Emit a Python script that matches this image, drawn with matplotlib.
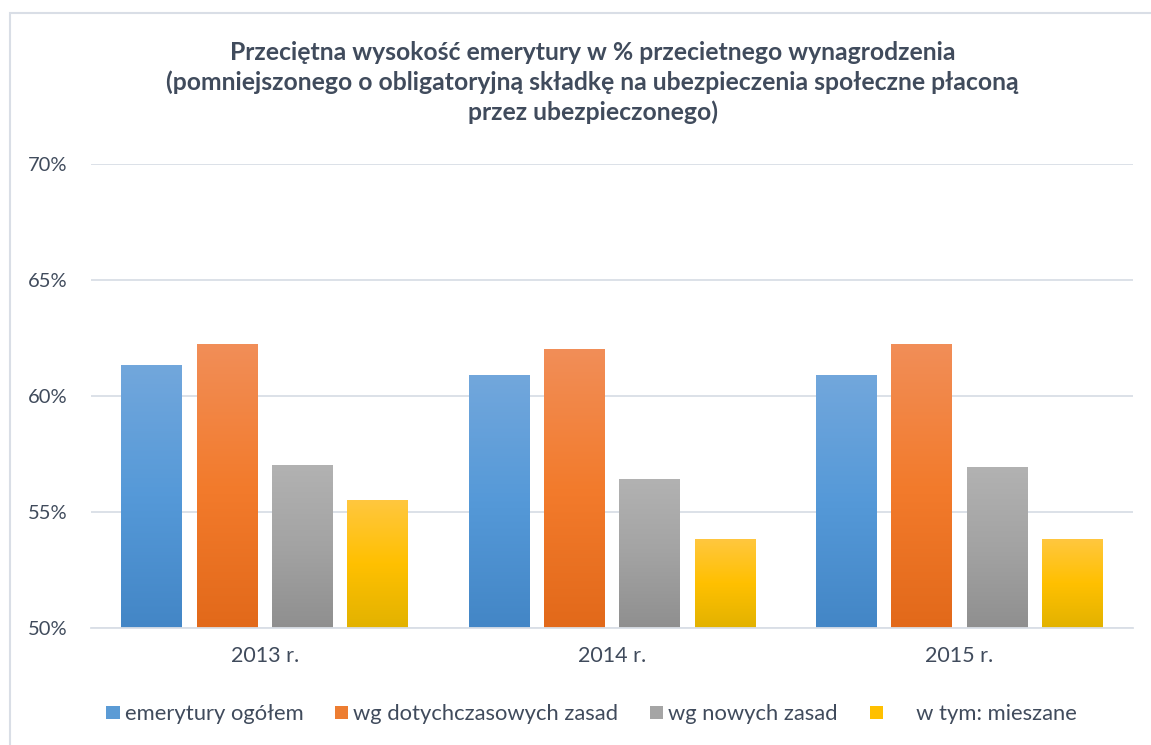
import numpy as np
import matplotlib
matplotlib.use("Agg")
import matplotlib.pyplot as plt
from matplotlib.colors import LinearSegmentedColormap
from matplotlib.patches import Rectangle, Patch

plt.rcParams['font.family'] = ['Lato', 'DejaVu Sans']

years = ["2013 r.", "2014 r.", "2015 r."]
series = ["emerytury ogółem", "wg dotychczasowych zasad", "wg nowych zasad", "     w tym: mieszane"]
ogolem = [61.3, 60.9, 60.9]
dotychczasowe = [62.2, 62.0, 62.2]
nowe = [57.0, 56.4, 56.9]
mieszane = [55.5, 53.8, 53.8]
values = [ogolem, dotychczasowe, nowe, mieszane]

# gradient colours (top, middle, bottom) per series
grads = [
    ["#72a7dc", "#5599d8", "#4386c6"],
    ["#f18e58", "#f37b2c", "#e2691a"],
    ["#b2b2b2", "#a3a3a3", "#8f8f8f"],
    ["#ffc73f", "#ffc000", "#e2b200"],
]
solid = ["#5b9bd5", "#ed7d31", "#a5a5a5", "#ffc000"]
txt = "#404b5c"
gridc = "#d9dee6"

fig = plt.figure(figsize=(11.51, 7.45), dpi=100)
fig.patches.append(Rectangle((0.0087, -0.05), 1.1, 0.9826 + 0.05, transform=fig.transFigure,
                             fill=False, edgecolor="#d9dee6", lw=1.5))
ax = fig.add_axes([0.0791, 0.157, 0.9053, 0.623])

x = np.arange(len(years))
w = 0.175
step = 0.217
grad_img = np.linspace(0, 1, 256).reshape(-1, 1)
for i, vals in enumerate(values):
    offs = x + (i - 1.5) * step
    bars = ax.bar(offs, np.array(vals) - 50, w, bottom=50, color=solid[i], zorder=2)
    cmap = LinearSegmentedColormap.from_list("g%d" % i, grads[i][::-1])
    for b in bars:
        b.set_facecolor("none")
        b.set_edgecolor("none")
        x0, y0 = b.get_x(), b.get_y()
        ax.imshow(grad_img, cmap=cmap, origin="lower", aspect="auto", zorder=2,
                  extent=[x0, x0 + b.get_width(), y0, y0 + b.get_height()])

ax.set_xlim(-0.5, 2.5)
ax.set_ylim(50, 70)
ax.set_yticks([50, 55, 60, 65, 70])
ax.set_yticklabels(["50%", "55%", "60%", "65%", "70%"])
ax.set_xticks(x)
ax.set_xticklabels(years)
ax.grid(axis="y", color=gridc, lw=1.3, zorder=0)
ax.set_axisbelow(True)
for s in ["top", "right", "left"]:
    ax.spines[s].set_visible(False)
ax.spines["bottom"].set_color(gridc)
ax.spines["bottom"].set_linewidth(1.3)
ax.tick_params(axis="y", length=0, pad=17, labelsize=14.5, labelcolor=txt)
ax.tick_params(axis="x", length=0, pad=13, labelsize=15.5, labelcolor=txt)

fig.text(0.515, 0.889, "Przeciętna wysokość emerytury w % przecietnego wynagrodzenia\n"
         "(pomniejszonego o obligatoryjną składkę na ubezpieczenia społeczne płaconą\n"
         "przez ubezpieczonego)", ha="center", va="center", fontsize=17.8,
         fontweight="bold", color=txt, linespacing=1.32)

handles = [Patch(facecolor=c) for c in solid]
fig.legend(handles, series, loc="center", bbox_to_anchor=(0.514, 0.0416), ncol=4,
           frameon=False, fontsize=15.8, labelcolor=txt, handlelength=0.6,
           handleheight=0.56, handletextpad=0.23, columnspacing=1.45)

fig.savefig("out.png", dpi=100)
